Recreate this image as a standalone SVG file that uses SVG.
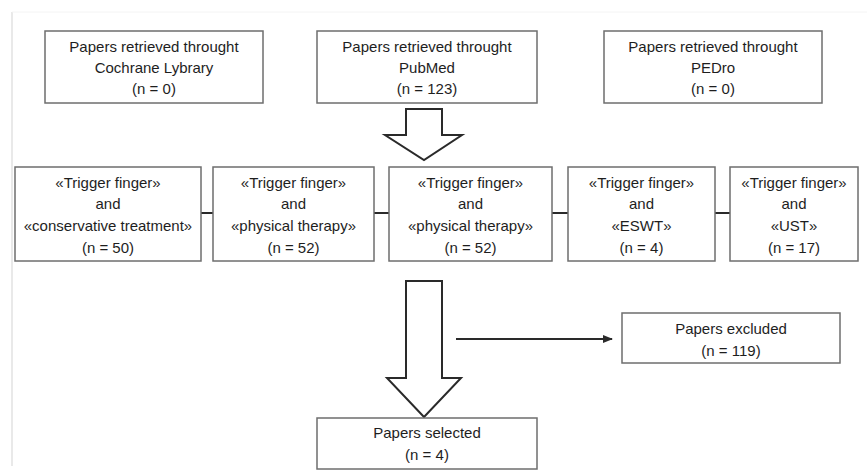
<svg xmlns="http://www.w3.org/2000/svg" width="867" height="470" viewBox="0 0 867 470">
<style>
.box{fill:#fff;stroke:#6e6e6e;stroke-width:1.5}
.t{font-family:"Liberation Sans",Arial,sans-serif;font-size:15px;fill:#1e1e1e;text-anchor:middle}
.big{fill:#fff;stroke:#2a2a2a;stroke-width:2;stroke-linejoin:miter}
.link{stroke:#2a2a2a;stroke-width:2;fill:none}
</style>
<defs>
<marker id="ah" markerWidth="10" markerHeight="8" refX="9" refY="4" orient="auto" markerUnits="userSpaceOnUse">
<path d="M0,0 L10,4 L0,8 Z" fill="#2a2a2a"/>
</marker>
</defs>
<rect width="867" height="470" fill="#fff"/>
<line x1="12" y1="12" x2="12" y2="466" stroke="#e2e2e2" stroke-width="1.5"/>
<line x1="12" y1="12" x2="867" y2="12" stroke="#f4f4f4" stroke-width="1"/>

<g id="connectors">
<path class="big" d="M406,109 L442,109 L442,135 L462,135 L424,160 L385,135 L406,135 Z"/>
<line class="link" x1="201" y1="213" x2="213" y2="213"/>
<line class="link" x1="374" y1="213" x2="389" y2="213"/>
<line class="link" x1="552" y1="213" x2="568" y2="213"/>
<line class="link" x1="715" y1="213" x2="730" y2="213"/>
<path class="big" d="M406,281 L442,281 L442,378 L461,378 L424,417 L387,378 L406,378 Z"/>
<line class="link" x1="456" y1="339" x2="612" y2="339" marker-end="url(#ah)"/>
</g>

<g id="cochrane">
<rect class="box" x="45" y="31" width="218" height="72"/>
<text class="t" x="154" y="52">Papers retrieved throught</text>
<text class="t" x="154" y="73">Cochrane Lybrary</text>
<text class="t" x="154" y="94">(n = 0)</text>
</g>
<g id="pubmed">
<rect class="box" x="317" y="31" width="220" height="72"/>
<text class="t" x="427" y="52">Papers retrieved throught</text>
<text class="t" x="427" y="73">PubMed</text>
<text class="t" x="427" y="94">(n = 123)</text>
</g>
<g id="pedro">
<rect class="box" x="604" y="31" width="218" height="72"/>
<text class="t" x="713" y="52">Papers retrieved throught</text>
<text class="t" x="713" y="73">PEDro</text>
<text class="t" x="713" y="94">(n = 0)</text>
</g>

<g id="q1">
<rect class="box" x="15" y="167" width="186" height="94"/>
<text class="t" x="108" y="188">«Trigger finger»</text>
<text class="t" x="108" y="209">and</text>
<text class="t" x="108" y="231">«conservative treatment»</text>
<text class="t" x="108" y="253">(n = 50)</text>
</g>
<g id="q2">
<rect class="box" x="213" y="167" width="161" height="94"/>
<text class="t" x="293.5" y="188">«Trigger finger»</text>
<text class="t" x="293.5" y="209">and</text>
<text class="t" x="293.5" y="231">«physical therapy»</text>
<text class="t" x="293.5" y="253">(n = 52)</text>
</g>
<g id="q3">
<rect class="box" x="389" y="167" width="163" height="94"/>
<text class="t" x="470.5" y="188">«Trigger finger»</text>
<text class="t" x="470.5" y="209">and</text>
<text class="t" x="470.5" y="231">«physical therapy»</text>
<text class="t" x="470.5" y="253">(n = 52)</text>
</g>
<g id="q4">
<rect class="box" x="568" y="167" width="147" height="94"/>
<text class="t" x="641.5" y="188">«Trigger finger»</text>
<text class="t" x="641.5" y="209">and</text>
<text class="t" x="641.5" y="231">«ESWT»</text>
<text class="t" x="641.5" y="253">(n = 4)</text>
</g>
<g id="q5">
<rect class="box" x="730" y="167" width="128" height="94"/>
<text class="t" x="794" y="188">«Trigger finger»</text>
<text class="t" x="794" y="209">and</text>
<text class="t" x="794" y="231">«UST»</text>
<text class="t" x="794" y="253">(n = 17)</text>
</g>

<g id="excluded">
<rect class="box" x="622" y="313" width="218" height="50"/>
<text class="t" x="731" y="334">Papers excluded</text>
<text class="t" x="731" y="356">(n = 119)</text>
</g>
<g id="selected">
<rect class="box" x="317" y="418" width="220" height="51"/>
<text class="t" x="427" y="438">Papers selected</text>
<text class="t" x="427" y="460">(n = 4)</text>
</g>
</svg>
